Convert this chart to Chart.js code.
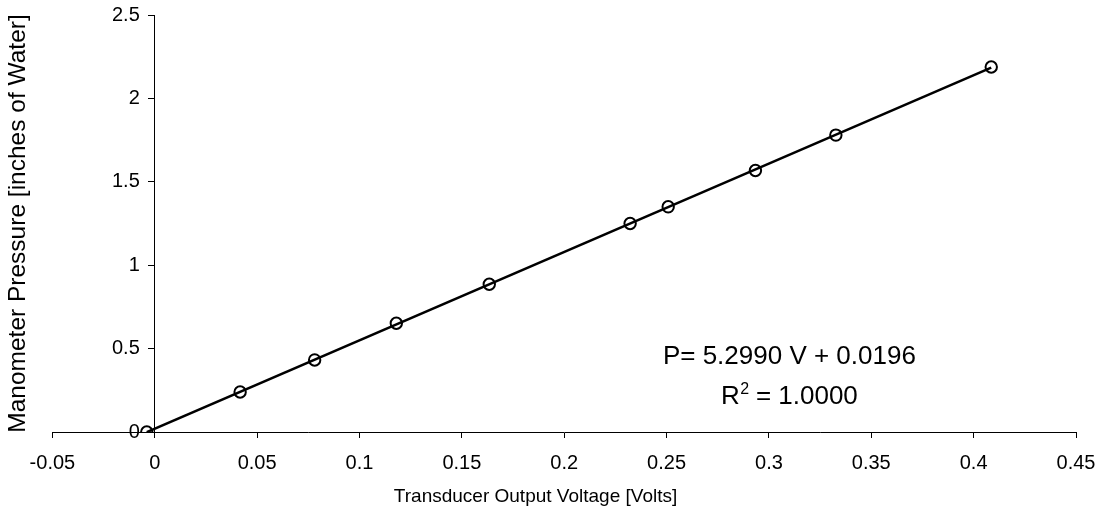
<!DOCTYPE html>
<html>
<head>
<meta charset="utf-8">
<script src="https://cdn.jsdelivr.net/npm/chart.js@4/dist/chart.umd.min.js"></script>
<style>
  html, body { margin: 0; padding: 0; background: #ffffff; }
  #wrap { width: 1101px; height: 516px; }
</style>
</head>
<body>
<div id="wrap"><canvas id="chart"></canvas></div>
<script>
// calibration readings (volts vs inches of water)
var voltage  = [-0.0039, 0.0417, 0.0781, 0.1180, 0.1634, 0.2322, 0.2508, 0.2934, 0.3327, 0.4086];
var pressure = [0.000, 0.240, 0.432, 0.652, 0.886, 1.250, 1.350, 1.568, 1.780, 2.188];

// trendline end points as drawn
var fitVoltage  = [-0.0039, 0.4086];
var fitPressure = [-0.001, 2.185];

var xTicks = [-0.05, 0, 0.05, 0.1, 0.15, 0.2, 0.25, 0.3, 0.35, 0.4, 0.45];
var yTicks = [0, 0.5, 1, 1.5, 2, 2.5];

var xTitle = 'Transducer Output Voltage [Volts]';
var yTitle = 'Manometer Pressure [inches of Water]';
var fitEquation = 'P= 5.2990 V + 0.0196';
var fitR2 = '1.0000';

var FONT = '"Liberation Sans", Arial, sans-serif';

function toPoints(xs, ys) {
    var pts = [];
    for (var i = 0; i < xs.length; i++) {
        pts.push({x: xs[i], y: ys[i]});
    }
    return pts;
}

function fmt(v) {
    return String(Math.round(v * 100) / 100);
}

// y axis sits at x = 0 and chart.js puts its labels right on the line -> push them left.
// x labels get a small tick padding (keeps the right edge free) and are moved down here.
function shiftLabels(scale, dx, dy) {
    scale.getLabelItems().forEach(function(it) {
        if (!it._shifted) {
            it.options.translation[0] += dx;
            it.options.translation[1] += dy;
            it._shifted = true;
        }
    });
}

var labelShift = {
    id: 'labelShift',
    beforeDraw: function(chart) {
        shiftLabels(chart.scales.y, -15, 0);
        shiftLabels(chart.scales.x, 0, 8);
    }
};

// x title (sits a bit left of centre) and the regression text
var textPlugin = {
    id: 'fitText',
    afterDraw: function(chart) {
        var ctx = chart.ctx;
        var area = chart.chartArea;
        ctx.save();
        ctx.fillStyle = '#000';

        ctx.font = '19px ' + FONT;
        ctx.textAlign = 'center';
        ctx.textBaseline = 'middle';
        ctx.fillText(xTitle, area.left + (area.right - area.left) * 0.472, 497);

        var cx = chart.scales.x.getPixelForValue(0.31);
        var y1 = chart.scales.y.getPixelForValue(0.41);
        var y2 = chart.scales.y.getPixelForValue(0.17);
        var big = '26px ' + FONT, small = '16px ' + FONT;
        ctx.textBaseline = 'alphabetic';
        ctx.font = big;
        ctx.fillText(fitEquation, cx, y1);

        // R^2 line with a raised 2
        ctx.textAlign = 'left';
        var wR = ctx.measureText('R').width;
        var rest = ' = ' + fitR2;
        var wRest = ctx.measureText(rest).width;
        ctx.font = small;
        var w2 = ctx.measureText('2').width;
        var x0 = cx - (wR + w2 + wRest) / 2;
        ctx.font = big;
        ctx.fillText('R', x0, y2);
        ctx.font = small;
        ctx.fillText('2', x0 + wR + 0.5, y2 - 10);
        ctx.font = big;
        ctx.fillText(rest, x0 + wR + w2, y2);
        ctx.restore();
    }
};

var ctx = document.getElementById('chart').getContext('2d');
var chart = new Chart(ctx, {
    type: 'scatter',
    data: {
        datasets: [{
            label: 'Calibration',
            data: toPoints(voltage, pressure),
            showLine: false,
            pointStyle: 'circle',
            pointRadius: 5.7,
            pointHoverRadius: 5.7,
            pointBorderWidth: 2,
            pointBorderColor: '#000',
            pointBackgroundColor: 'rgba(0,0,0,0)'
        }, {
            label: 'Fit',
            data: toPoints(fitVoltage, fitPressure),
            showLine: true,
            borderColor: '#000',
            borderWidth: 2.5,
            pointRadius: 0,
            pointHoverRadius: 0,
            fill: false
        }]
    },
    options: {
        responsive: true,
        maintainAspectRatio: false,
        animation: false,
        events: [],
        layout: {padding: {left: 4, right: 25, top: 12, bottom: 44}},
        plugins: {
            legend: {display: false},
            tooltip: {enabled: false}
        },
        scales: {
            x: {
                type: 'linear',
                position: 'bottom',
                min: -0.05,
                max: 0.45,
                afterBuildTicks: function(axis) {
                    axis.ticks = xTicks.map(function(v) { return {value: v}; });
                },
                grid: {display: true, drawOnChartArea: false, drawTicks: true, tickLength: 6, color: '#000', tickWidth: 1},
                border: {display: true, color: '#000', width: 1},
                ticks: {
                    color: '#000',
                    font: {family: FONT, size: 20},
                    padding: 5,
                    maxRotation: 0,
                    callback: fmt
                }
            },
            y: {
                type: 'linear',
                position: {x: 0},
                min: 0,
                max: 2.5,
                afterBuildTicks: function(axis) {
                    axis.ticks = yTicks.map(function(v) { return {value: v}; });
                },
                grid: {display: true, drawOnChartArea: false, drawTicks: true, tickLength: 6, color: '#000', tickWidth: 1},
                border: {display: true, color: '#000', width: 1},
                ticks: {
                    color: '#000',
                    font: {family: FONT, size: 20},
                    callback: fmt
                }
            },
            yTitle: {
                type: 'linear',
                position: 'left',
                display: true,
                grid: {display: false, drawTicks: false},
                border: {display: false},
                ticks: {display: false},
                title: {
                    display: true,
                    text: yTitle,
                    color: '#000',
                    font: {family: FONT, size: 24.5},
                    padding: {top: 0, bottom: 19}
                }
            }
        }
    },
    plugins: [labelShift, textPlugin]
});
</script>
</body>
</html>
